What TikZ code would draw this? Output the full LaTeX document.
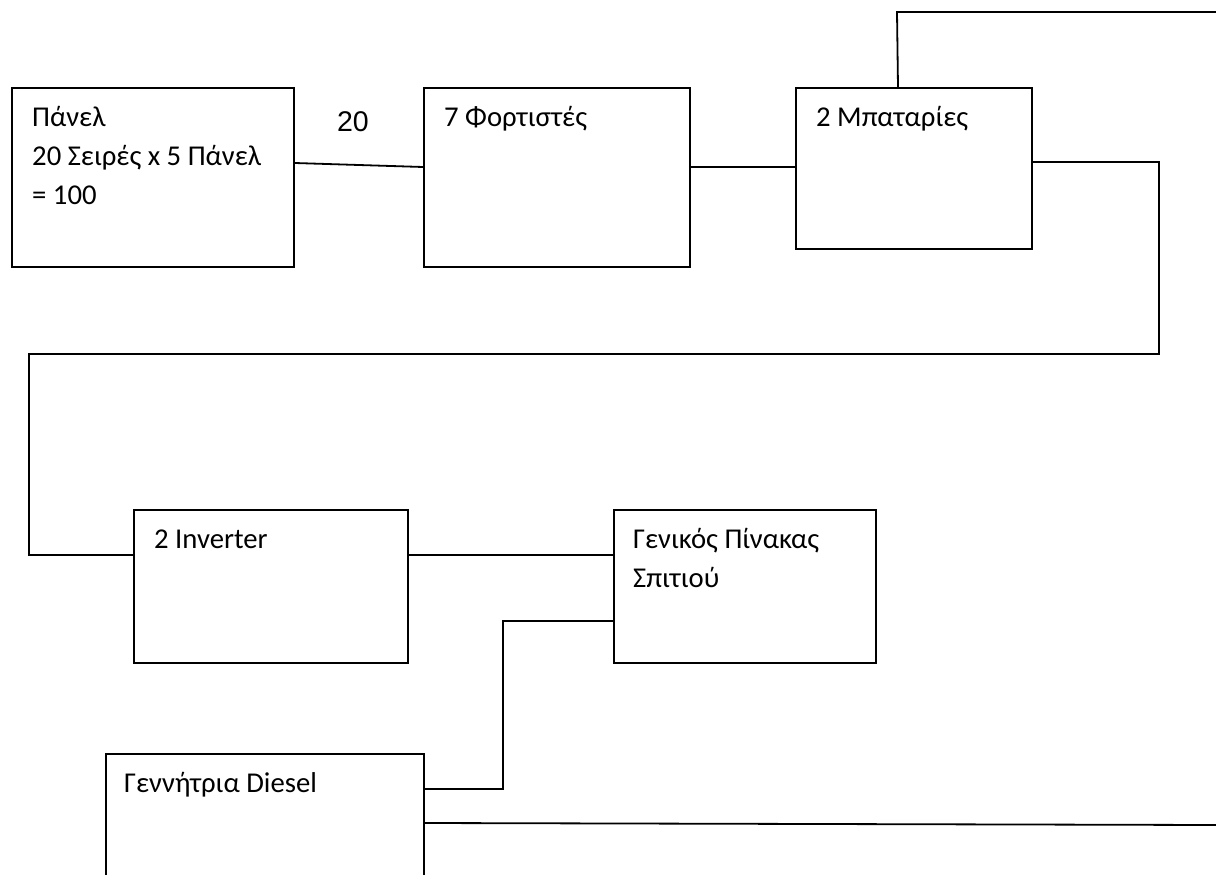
\documentclass[tikz,border=0pt]{standalone}
\usepackage{fontspec}
\setmainfont{Carlito}
\newfontfamily\arialfont{Liberation Sans}
\usetikzlibrary{calc}
\tikzset{
  boxnode/.style={draw, line width=1.8pt, rectangle, minimum width=#1, inner sep=0pt, anchor=north west},
  txt/.style={anchor=base west, inner sep=0pt, font=\fontsize{28.7}{39}\selectfont},
  wire/.style={line width=1.8pt}
}
\begin{document}
\begin{tikzpicture}[x=1pt,y=-1pt]
\clip (0,0) rectangle (1216,875);
\useasboundingbox (0,0) rectangle (1216,875);
% boxes
\node[boxnode=282pt, minimum height=179pt] (panel) at (11,87) {};
\node[boxnode=266pt, minimum height=179pt] (fort) at (423,87) {};
\node[boxnode=236pt, minimum height=161pt] (batt) at (795,87) {};
\node[boxnode=274pt, minimum height=153pt] (inv) at (133,509) {};
\node[boxnode=262pt, minimum height=153pt] (gp) at (613,509) {};
\node[boxnode=318pt, minimum height=160pt] (gen) at (105,753) {};
% texts
\node[txt] (t1) at ($(panel.north west)+(21,39)$) {Πάνελ};
\node[txt] (t2) at ($(panel.north west)+(21,78)$) {20 Σειρές x 5 Πάνελ};
\node[txt] (t3) at ($(panel.north west)+(21,117)$) {= 100};
\node[anchor=base, inner sep=0pt, font=\arialfont\fontsize{28.5}{32}\selectfont] (lbl) at (353,131) {20};
\node[txt] (t4) at ($(fort.north west)+(21,39)$) {7 Φορτιστές};
\node[txt] (t5) at ($(batt.north west)+(21,39)$) {2 Μπαταρίες};
\node[txt] (t6) at ($(inv.north west)+(21,39)$) {2 Inverter};
\node[txt] (t7) at ($(gp.north west)+(20,39)$) {Γενικός Πίνακας};
\node[txt] (t8) at ($(gp.north west)+(20,78)$) {Σπιτιού};
\node[txt] (t9) at ($(gen.north west)+(19,39)$) {Γεννήτρια Diesel};
% free ends
\coordinate (topend) at (1216,12);
\coordinate (botend) at (1216,825);
% connectors
\draw[wire] (panel.east |- 0,163) -- (fort.west |- 0,167);
\draw[wire] (fort.east |- 0,167) -- (batt.west |- 0,167);
\draw[wire] (898,87) -- (897,12) -- (topend);
\draw[wire] (batt.east |- 0,162) -- (1159,162) -- (1159,354) -- (29,354) -- (29,555) -- (inv.west |- 0,555);
\draw[wire] (inv.east |- 0,555) -- (gp.west |- 0,555);
\draw[wire] (gp.west |- 0,621) -- (503,621) -- (503,789) -- (gen.east |- 0,789);
\draw[wire] (gen.east |- 0,823) -- (botend);
\end{tikzpicture}
\end{document}
